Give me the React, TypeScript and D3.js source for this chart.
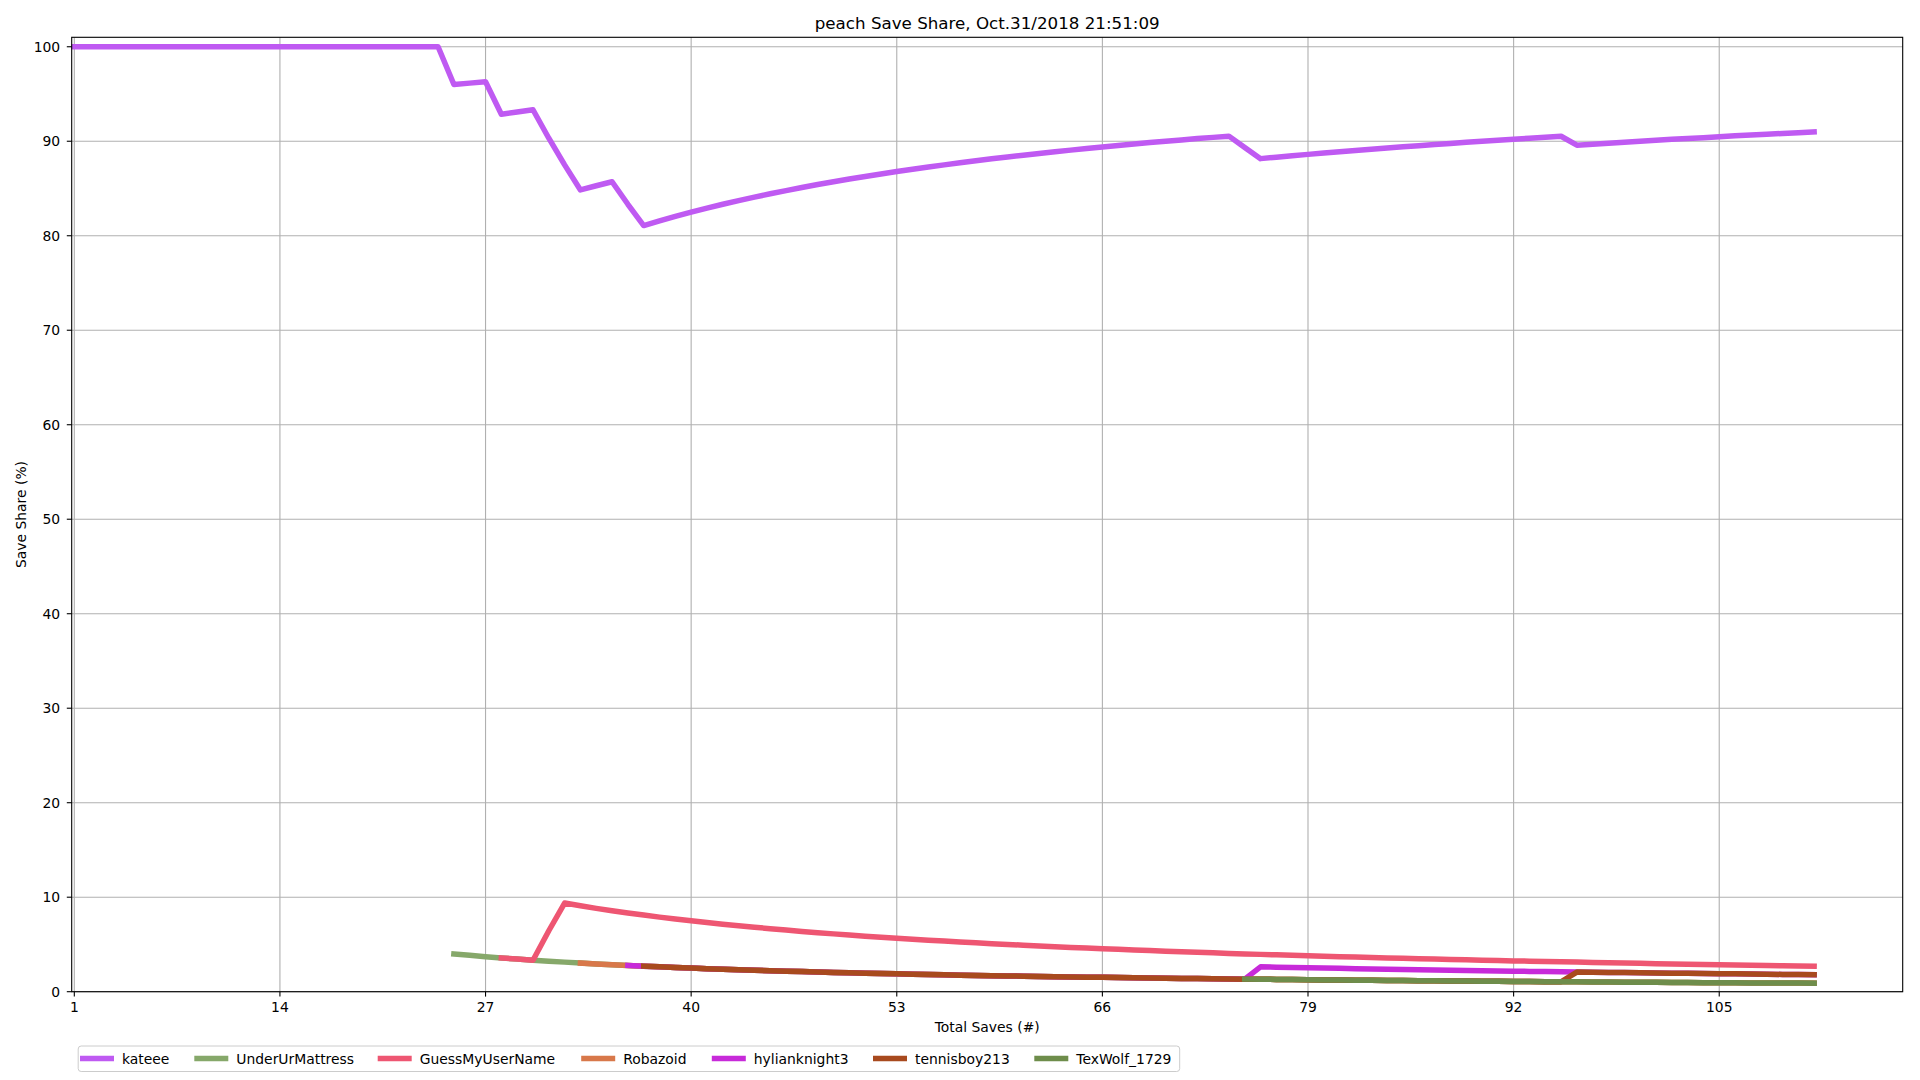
import React from "react";
import * as d3 from "d3";

// ---------- DATA ----------
const chartTitle = "peach Save Share, Oct.31/2018 21:51:09";
const xLabel = "Total Saves (#)";
const yLabel = "Save Share (%)";

const xTicks = [1, 14, 27, 40, 53, 66, 79, 92, 105];
const yTicks = [0, 10, 20, 30, 40, 50, 60, 70, 80, 90, 100];

const seriesNames = ["kateee", "UnderUrMattress", "GuessMyUserName", "Robazoid", "hylianknight3", "tennisboy213", "TexWolf_1729"];
const seriesColors = ["#bf5af2", "#86a86a", "#ee5672", "#d8784a", "#c72ad9", "#a84a1e", "#6e8d4b"];
// first "Total Saves" value of each series
const seriesStart = [1, 25, 28, 33, 36, 37, 75];

const kateeeShare = [
  100, 100, 100, 100, 100, 100, 100, 100, 100, 100, 100, 100,
  100, 100, 100, 100, 100, 100, 100, 100, 100, 100, 100, 100,
  96.0, 96.15, 96.3, 92.86, 93.1, 93.33, 90.32, 87.5, 84.85, 85.29, 85.71, 83.33, 81.08,
  81.58, 82.05, 82.5, 82.93, 83.33, 83.72, 84.09, 84.44, 84.78, 85.11, 85.42, 85.71, 86.0,
  86.27, 86.54, 86.79, 87.04, 87.27, 87.5, 87.72, 87.93, 88.14, 88.33, 88.52, 88.71, 88.89,
  89.06, 89.23, 89.39, 89.55, 89.71, 89.86, 90.0, 90.14, 90.28, 90.41, 90.54,
  89.33, 88.16, 88.31, 88.46, 88.61, 88.75, 88.89, 89.02, 89.16, 89.29, 89.41, 89.53, 89.66,
  89.77, 89.89, 90.0, 90.11, 90.22, 90.32, 90.43, 90.53,
  89.58, 89.69, 89.8, 89.9, 90.0, 90.1, 90.2, 90.29, 90.38, 90.48, 90.57, 90.65, 90.74, 90.83, 90.91, 90.99,
];

const underUrMattressShare = [
  4.0, 3.85, 3.7, 3.57, 3.45, 3.33, 3.23, 3.13, 3.03, 2.94, 2.86, 2.78, 2.7, 2.63, 2.56, 2.5,
  2.44, 2.38, 2.33, 2.27, 2.22, 2.17, 2.13, 2.08, 2.04, 2.0, 1.96, 1.92, 1.89, 1.85, 1.82, 1.79,
  1.75, 1.72, 1.69, 1.67, 1.64, 1.61, 1.59, 1.56, 1.54, 1.52, 1.49, 1.47, 1.45, 1.43, 1.41, 1.39,
  1.37, 1.35, 1.33, 1.32, 1.3, 1.28, 1.27, 1.25, 1.23, 1.22, 1.2, 1.19, 1.18, 1.16, 1.15, 1.14,
  1.12, 1.11, 1.1, 1.09, 1.08, 1.06, 1.05, 1.04, 1.03, 1.02, 1.01, 1.0, 0.99, 0.98, 0.97, 0.96,
  0.95, 0.94, 0.93, 0.93, 0.92, 0.91, 0.9,
];

const guessMyUserNameShare = [
  3.57, 3.45, 3.33, 6.45, 9.38,
  9.09, 8.82, 8.57, 8.33, 8.11, 7.89, 7.69, 7.5, 7.32, 7.14, 6.98, 6.82, 6.67, 6.52, 6.38, 6.25,
  6.12, 6.0, 5.88, 5.77, 5.66, 5.56, 5.45, 5.36, 5.26, 5.17, 5.08, 5.0, 4.92, 4.84, 4.76, 4.69,
  4.62, 4.55, 4.48, 4.41, 4.35, 4.29, 4.23, 4.17, 4.11, 4.05, 4.0, 3.95, 3.9, 3.85, 3.8, 3.75,
  3.7, 3.66, 3.61, 3.57, 3.53, 3.49, 3.45, 3.41, 3.37, 3.33, 3.3, 3.26, 3.23, 3.19, 3.16, 3.13,
  3.09, 3.06, 3.03, 3.0, 2.97, 2.94, 2.91, 2.88, 2.86, 2.83, 2.8, 2.78, 2.75, 2.73, 2.7,
];

const robazoidShare = [
  3.03, 2.94, 2.86, 2.78, 2.7, 2.63, 2.56, 2.5,
  2.44, 2.38, 2.33, 2.27, 2.22, 2.17, 2.13, 2.08, 2.04, 2.0, 1.96, 1.92, 1.89, 1.85, 1.82, 1.79,
  1.75, 1.72, 1.69, 1.67, 1.64, 1.61, 1.59, 1.56, 1.54, 1.52, 1.49, 1.47, 1.45, 1.43, 1.41, 1.39,
  1.37, 1.35, 1.33, 1.32, 1.3, 1.28, 1.27, 1.25, 1.23, 1.22, 1.2, 1.19, 1.18, 1.16, 1.15, 1.14,
  1.12, 1.11, 1.1, 1.09, 1.08, 1.06, 1.05, 1.04, 1.03, 1.02, 1.01, 1.0, 0.99, 0.98, 0.97, 0.96,
  0.95, 0.94, 0.93, 0.93, 0.92, 0.91, 0.9,
];

const hylianknight3Share = [
  2.78, 2.7, 2.63, 2.56, 2.5,
  2.44, 2.38, 2.33, 2.27, 2.22, 2.17, 2.13, 2.08, 2.04, 2.0, 1.96, 1.92, 1.89, 1.85, 1.82, 1.79,
  1.75, 1.72, 1.69, 1.67, 1.64, 1.61, 1.59, 1.56, 1.54, 1.52, 1.49, 1.47, 1.45, 1.43, 1.41, 1.39,
  1.37, 1.35, 1.33,
  2.63, 2.6, 2.56, 2.53, 2.5, 2.47, 2.44, 2.41, 2.38, 2.35, 2.33, 2.3, 2.27, 2.25, 2.22, 2.2,
  2.17, 2.15, 2.13, 2.11, 2.08, 2.06, 2.04, 2.02, 2.0, 1.98, 1.96, 1.94, 1.92, 1.9, 1.89, 1.87,
  1.85, 1.83, 1.82, 1.8,
];

const tennisboy213Share = [
  2.7, 2.63, 2.56, 2.5,
  2.44, 2.38, 2.33, 2.27, 2.22, 2.17, 2.13, 2.08, 2.04, 2.0, 1.96, 1.92, 1.89, 1.85, 1.82, 1.79,
  1.75, 1.72, 1.69, 1.67, 1.64, 1.61, 1.59, 1.56, 1.54, 1.52, 1.49, 1.47, 1.45, 1.43, 1.41, 1.39,
  1.37, 1.35, 1.33, 1.32, 1.3, 1.28, 1.27, 1.25, 1.23, 1.22, 1.2, 1.19, 1.18, 1.16, 1.15, 1.14,
  1.12, 1.11, 1.1, 1.09, 1.08, 1.06, 1.05,
  2.08, 2.06, 2.04, 2.02, 2.0, 1.98, 1.96, 1.94, 1.92, 1.9, 1.89, 1.87, 1.85, 1.83, 1.82, 1.8,
];

const texWolf1729Share = [
  1.33, 1.32, 1.3, 1.28, 1.27, 1.25, 1.23, 1.22, 1.2, 1.19, 1.18, 1.16, 1.15, 1.14,
  1.12, 1.11, 1.1, 1.09, 1.08, 1.06, 1.05, 1.04, 1.03, 1.02, 1.01, 1.0, 0.99, 0.98, 0.97, 0.96,
  0.95, 0.94, 0.93, 0.93, 0.92, 0.91, 0.9,
];

const seriesValues = [
  kateeeShare,
  underUrMattressShare,
  guessMyUserNameShare,
  robazoidShare,
  hylianknight3Share,
  tennisboy213Share,
  texWolf1729Share,
];

// ---------- LAYOUT ----------
const W = 1920;
const H = 1080;
const plotLeft = 71.7;
const plotRight = 1902.7;
const plotTop = 37.3;
const plotBottom = 991.7;
const xDomain = [0.835, 116.6];
const yDomain = [0, 101];
const FONT = "'DejaVu Sans', sans-serif";

const legendBox = { x: 78.2, y: 1046, w: 1101.5, h: 25.5 };
const legendHandleX = [80, 194.3, 377.7, 581.2, 711.8, 873, 1034.3];
const legendHandleLen = 34;
const legendTextGap = 42;
const legendY = 1058.5;

export default function App() {
  const x = d3.scaleLinear().domain(xDomain).range([plotLeft, plotRight]);
  const y = d3.scaleLinear().domain(yDomain).range([plotBottom, plotTop]);

  const lineGen = d3
    .line<[number, number]>()
    .x((d) => x(d[0]))
    .y((d) => y(d[1]));

  const paths = seriesValues.map((vals, i) =>
    lineGen(vals.map((v, j) => [seriesStart[i] + j, v] as [number, number]))
  );

  return (
    <svg
      width={W}
      height={H}
      style={{ position: "absolute", left: 0, top: 0, background: "#fff" }}
      fontFamily={FONT}
    >
      <rect x={0} y={0} width={W} height={H} fill="#fff" />
      {/* grid */}
      <g stroke="#b0b0b0" strokeWidth={1.1}>
        {xTicks.map((t) => (
          <line key={"gx" + t} x1={x(t)} x2={x(t)} y1={plotTop} y2={plotBottom} />
        ))}
        {yTicks.map((t) => (
          <line key={"gy" + t} x1={plotLeft} x2={plotRight} y1={y(t)} y2={y(t)} />
        ))}
      </g>

      {/* series */}
      <g fill="none" strokeWidth={5.5} strokeLinejoin="round" strokeLinecap="square">
        {paths.map((p, i) => (
          <path key={seriesNames[i]} d={p || ""} stroke={seriesColors[i]} />
        ))}
      </g>

      {/* spines */}
      <rect
        x={plotLeft}
        y={plotTop}
        width={plotRight - plotLeft}
        height={plotBottom - plotTop}
        fill="none"
        stroke="#000"
        strokeWidth={1.1}
      />

      {/* ticks */}
      <g fontSize={13.9} fill="#000">
        {xTicks.map((t) => (
          <g key={"xt" + t}>
            <line x1={x(t)} x2={x(t)} y1={plotBottom} y2={plotBottom + 4.9} stroke="#000" strokeWidth={1.1} />
            <text x={x(t)} y={plotBottom + 20} textAnchor="middle">
              {t}
            </text>
          </g>
        ))}
        {yTicks.map((t) => (
          <g key={"yt" + t}>
            <line x1={plotLeft - 4.9} x2={plotLeft} y1={y(t)} y2={y(t)} stroke="#000" strokeWidth={1.1} />
            <text x={plotLeft - 11.5} y={y(t)} textAnchor="end" dominantBaseline="central">
              {t}
            </text>
          </g>
        ))}
      </g>

      {/* axis labels and title */}
      <text x={(plotLeft + plotRight) / 2} y={1032} textAnchor="middle" fontSize={13.9}>
        {xLabel}
      </text>
      <text
        transform={`translate(21, ${(plotTop + plotBottom) / 2}) rotate(-90)`}
        textAnchor="middle"
        dominantBaseline="central"
        fontSize={13.9}
      >
        {yLabel}
      </text>
      <text x={(plotLeft + plotRight) / 2} y={29} textAnchor="middle" fontSize={16.7}>
        {chartTitle}
      </text>

      {/* legend */}
      <rect
        x={legendBox.x}
        y={legendBox.y}
        width={legendBox.w}
        height={legendBox.h}
        rx={3}
        fill="#fff"
        fillOpacity={0.8}
        stroke="#cccccc"
        strokeWidth={1}
      />
      {seriesNames.map((n, i) => (
        <g key={"lg" + n}>
          <line
            x1={legendHandleX[i]}
            x2={legendHandleX[i] + legendHandleLen}
            y1={legendY}
            y2={legendY}
            stroke={seriesColors[i]}
            strokeWidth={5.5}
          />
          <text x={legendHandleX[i] + legendTextGap} y={legendY} dominantBaseline="central" fontSize={13.9}>
            {n}
          </text>
        </g>
      ))}
    </svg>
  );
}
